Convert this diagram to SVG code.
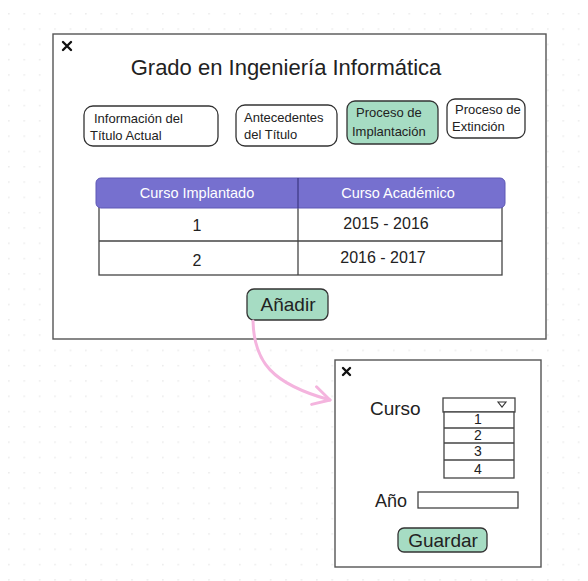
<svg xmlns="http://www.w3.org/2000/svg" width="588" height="581" viewBox="0 0 588 581">
  <defs>
    <pattern id="dots" x="8" y="13" width="15.4" height="15.3" patternUnits="userSpaceOnUse">
      <circle cx="0.8" cy="0.8" r="0.9" fill="#ebebeb"/>
    </pattern>
    <marker id="openHead" viewBox="0 0 12 12" refX="10" refY="6" markerWidth="22" markerHeight="22" markerUnits="userSpaceOnUse" orient="auto">
      <path d="M1,1 L10,6 L1,11" fill="none" stroke="#f4b4de" stroke-width="1.6" stroke-linecap="round" stroke-linejoin="round"/>
    </marker>
    <style>
      text { font-family: "Liberation Sans", Arial, sans-serif; fill: #222; }
      .win { fill: #fff; stroke: #555; stroke-width: 1.4; }
      .close { stroke: #111; stroke-width: 2.4; stroke-linecap: round; }
      .tab { fill: #fff; stroke: #333; stroke-width: 1.3; }
      .green { fill: #a6dcc3; stroke: #333; stroke-width: 1.3; }
      .cell { fill: #fff; stroke: #444; stroke-width: 1.3; }
      .line { stroke: #444; stroke-width: 1.3; }
      .tabtxt { font-size: 13px; }
      .head { font-size: 14.5px; fill: #fff; text-anchor: middle; }
      .val { font-size: 16px; text-anchor: middle; }
      .btn { font-size: 19px; text-anchor: middle; }
      .opt { font-size: 14px; text-anchor: middle; }
    </style>
  </defs>

  <!-- canvas -->
  <rect width="588" height="581" fill="#fff"/>
  <rect x="7" y="12" width="581" height="569" fill="url(#dots)"/>

  <!-- main window -->
  <g id="main-window">
    <rect class="win" x="53" y="34" width="493" height="305"/>
    <path class="close" d="M63,42 L71,50 M71,42 L63,50"/>
    <text x="286" y="75" font-size="22" text-anchor="middle">Grado en Ingeniería Informática</text>
  </g>

  <g id="tab-info">
    <rect class="tab" x="84" y="106" width="134" height="40" rx="9"/>
    <text class="tabtxt" x="94" y="123">Información del</text>
    <text class="tabtxt" x="90" y="140">Título Actual</text>
  </g>
  <g id="tab-antecedentes">
    <rect class="tab" x="236" y="105" width="101" height="41" rx="9"/>
    <text class="tabtxt" x="244" y="122">Antecedentes</text>
    <text class="tabtxt" x="244" y="139">del Título</text>
  </g>
  <g id="tab-implantacion">
    <rect class="green" x="347" y="101" width="91" height="43" rx="8"/>
    <text class="tabtxt" x="356" y="117">Proceso de</text>
    <text class="tabtxt" x="352" y="136">Implantación</text>
  </g>
  <g id="tab-extincion">
    <rect class="tab" x="447" y="99" width="78" height="39" rx="8"/>
    <text class="tabtxt" x="455" y="114">Proceso de</text>
    <text class="tabtxt" x="452" y="131">Extinción</text>
  </g>

  <!-- course table -->
  <g id="course-table">
    <rect class="cell" x="99" y="206" width="403" height="69"/>
    <line class="line" x1="99" y1="241" x2="502" y2="241"/>
    <line class="line" x1="298" y1="206" x2="298" y2="275"/>
    <rect x="96" y="178" width="409" height="30" rx="5" fill="#7670cf" stroke="#5e58b5" stroke-width="1"/>
    <line x1="298" y1="178" x2="298" y2="208" stroke="#3b3680" stroke-width="1.2"/>
    <text class="head" x="197" y="198">Curso Implantado</text>
    <text class="head" x="398" y="198">Curso Académico</text>
    <text class="val" x="197" y="231">1</text>
    <text class="val" x="386" y="229">2015 - 2016</text>
    <text class="val" x="197" y="266">2</text>
    <text class="val" x="383" y="263">2016 - 2017</text>
  </g>

  <g id="btn-anadir">
    <rect class="green" x="247" y="289" width="81" height="31" rx="7"/>
    <text class="btn" x="288" y="311">Añadir</text>
  </g>

  <!-- connectors -->
  <g id="connectors">
    <path d="M253,321 C254,362 272,384 330,400" fill="none" stroke="#f4b4de" stroke-width="3" stroke-linecap="round" marker-end="url(#openHead)"/>
  </g>

  <!-- add-course dialog -->
  <g id="dialog">
    <rect class="win" x="335" y="360" width="206" height="207"/>
    <path class="close" d="M343,368 L350,375 M350,368 L343,375"/>
    <text x="370" y="415" font-size="19">Curso</text>
    <text x="375" y="507" font-size="18">Año</text>
  </g>

  <g id="select-curso">
    <rect class="cell" x="443" y="398" width="72" height="14"/>
    <path d="M498,402 L506,402 L502,407 Z" fill="#fff" stroke="#333" stroke-width="1.1"/>
    <rect class="cell" x="444" y="412" width="70" height="66"/>
    <line class="line" x1="444" y1="428" x2="514" y2="428"/>
    <line class="line" x1="444" y1="443" x2="514" y2="443"/>
    <line class="line" x1="444" y1="460" x2="514" y2="460"/>
    <text class="opt" x="478" y="424">1</text>
    <text class="opt" x="478" y="440">2</text>
    <text class="opt" x="478" y="456">3</text>
    <text class="opt" x="478" y="474">4</text>
  </g>

  <g id="input-ano">
    <rect class="cell" x="418" y="492" width="100" height="16"/>
  </g>

  <g id="btn-guardar">
    <rect class="green" x="398" y="528" width="89" height="24" rx="6"/>
    <text class="btn" x="443" y="547">Guardar</text>
  </g>
</svg>
